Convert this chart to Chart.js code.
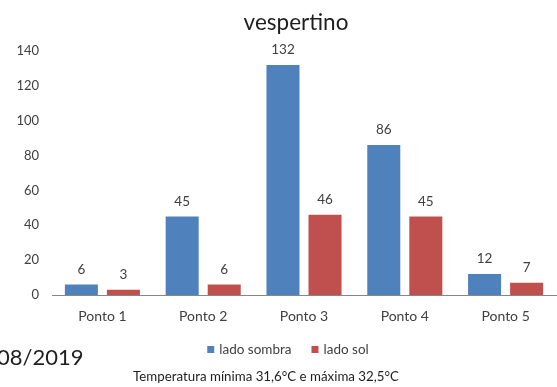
<!DOCTYPE html>
<html>
<head>
<meta charset="utf-8">
<script src="https://cdn.jsdelivr.net/npm/chart.js@4/dist/chart.umd.min.js"></script>
<style>
  html, body { margin: 0; padding: 0; background: #fff; }
  #wrap { width: 557px; height: 387px; position: relative; }
</style>
</head>
<body>
<div id="wrap"><canvas id="c" width="557" height="387"></canvas></div>
<script>
// Number of samples per measuring point, afternoon readings
const categories = ['Ponto 1', 'Ponto 2', 'Ponto 3', 'Ponto 4', 'Ponto 5'];
const seriesNames = ['lado sombra', 'lado sol'];
const ladoSombra = [6, 45, 132, 86, 12];
const ladoSol = [3, 6, 46, 45, 7];
const yTicks = [0, 20, 40, 60, 80, 100, 120, 140];
const chartTitle = 'vespertino';
const dateText = '08/2019';
const tempText = 'Temperatura mínima 31,6°C e máxima 32,5°C';

const FONT = 'Lato, "Liberation Sans", sans-serif';
const TEXT = '#404040';
const DARK = '#1e1e1e';

// Value labels above each bar, title, legend and footnotes
const extras = {
  id: 'extras',
  afterDatasetsDraw(chart) {
    const ctx = chart.ctx;
    ctx.save();
    ctx.textBaseline = 'alphabetic';

    // values above the bars
    ctx.fillStyle = TEXT;
    ctx.font = '13.5px ' + FONT;
    ctx.textAlign = 'center';
    chart.data.datasets.forEach((ds, di) => {
      chart.getDatasetMeta(di).data.forEach((bar, i) => {
        ctx.fillText(String(ds.data[i]), bar.x, bar.y - 11);
      });
    });

    // title
    ctx.fillStyle = DARK;
    ctx.font = '22.5px ' + FONT;
    ctx.fillText(chartTitle, 296, 30);

    // legend, centred as one row
    ctx.font = '13.5px ' + FONT;
    ctx.textAlign = 'left';
    const box = 7, gapBox = 5, gapItem = 20;
    const widths = chart.data.datasets.map(ds => ctx.measureText(ds.label).width);
    const total = widths.reduce((s, w) => s + box + gapBox + w, 0) + gapItem * (widths.length - 1);
    let lx = 288 - total / 2;
    chart.data.datasets.forEach((ds, di) => {
      ctx.fillStyle = ds.backgroundColor;
      ctx.fillRect(lx, 346, box, box);
      ctx.fillStyle = TEXT;
      ctx.fillText(ds.label, lx + box + gapBox, 354);
      lx += box + gapBox + widths[di] + gapItem;
    });

    // footnotes
    ctx.fillStyle = DARK;
    ctx.font = '13.3px ' + FONT;
    ctx.textAlign = 'center';
    ctx.fillText(tempText, 266, 381);
    ctx.font = '22px ' + FONT;
    ctx.textAlign = 'left';
    ctx.fillText(dateText, -3, 365);
    ctx.restore();
  }
};

new Chart(document.getElementById('c'), {
  type: 'bar',
  data: {
    labels: categories,
    datasets: [
      { label: seriesNames[0], data: ladoSombra, backgroundColor: '#4F81BD',
        categoryPercentage: 0.834, barPercentage: 0.786 },
      { label: seriesNames[1], data: ladoSol, backgroundColor: '#C0504D',
        categoryPercentage: 0.834, barPercentage: 0.786 }
    ]
  },
  options: {
    responsive: false,
    animation: false,
    devicePixelRatio: 1,
    layout: { padding: { top: 51, right: 1, bottom: 62, left: 0 } },
    plugins: {
      legend: { display: false },
      title: { display: false },
      tooltip: { enabled: false }
    },
    scales: {
      x: {
        grid: { display: false, drawTicks: false },
        border: { display: true, color: '#868686', width: 1 },
        ticks: { color: TEXT, font: { family: FONT, size: 14 }, padding: 13 },
        afterFit(scale) { scale.height = 30; }
      },
      y: {
        min: 0, max: 140,
        grid: { display: false, drawTicks: false },
        border: { display: false },
        afterBuildTicks(scale) { scale.ticks = yTicks.map(v => ({ value: v })); },
        ticks: { color: TEXT, font: { family: FONT, size: 13 }, padding: 13 },
        afterFit(scale) { scale.width = 52; }
      }
    }
  },
  plugins: [extras]
});
</script>
</body>
</html>
